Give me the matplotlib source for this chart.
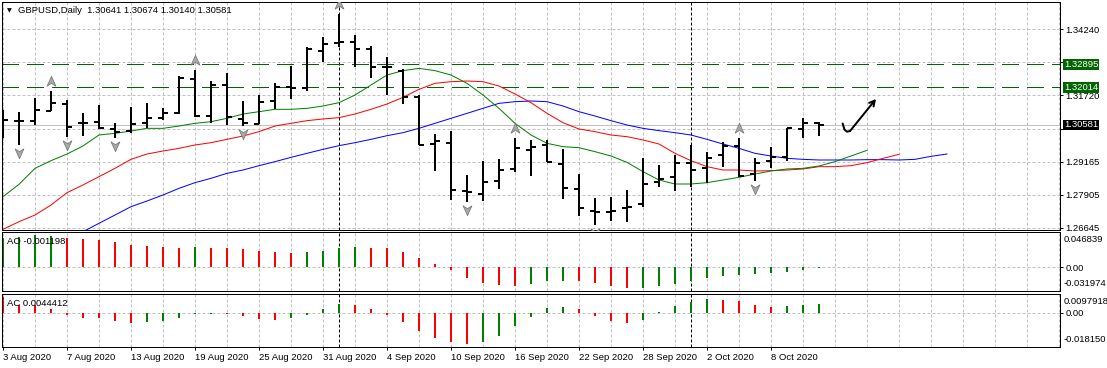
import matplotlib
matplotlib.use('Agg')
import numpy as np
import matplotlib.pyplot as plt
from matplotlib.path import Path
from matplotlib.transforms import offset_copy

# ---- data -----------------------------------------------------------------
symbol = 'GBPUSD'
timeframe = 'Daily'

date_ticks = [0, 4, 8, 12, 16, 20, 24, 28, 32, 36, 40, 44, 48]
date_labels = ['3 Aug 2020', '7 Aug 2020', '13 Aug 2020', '19 Aug 2020', '25 Aug 2020',
               '31 Aug 2020', '4 Sep 2020', '10 Sep 2020', '16 Sep 2020', '22 Sep 2020',
               '28 Sep 2020', '2 Oct 2020', '8 Oct 2020']
month_starts = [21, 43]   # 1 Sep, 1 Oct

bar_open = [1.3077, 1.3074, 1.3073, 1.3113, 1.3138, 1.3067, 1.3070, 1.3044, 1.3035, 1.3064,
            1.3086, 1.3102, 1.3234, 1.3093, 1.3211, 1.3079, 1.3062, 1.3151, 1.3204, 1.3198,
            1.3341, 1.3370, 1.3377, 1.3347, 1.3281, 1.3264, 1.3164, 1.2984, 1.2990, 1.2805,
            1.2792, 1.2845, 1.2889, 1.2962, 1.2981, 1.2908, 1.2813, 1.2730, 1.2726, 1.2739,
            1.2754, 1.2841, 1.2860, 1.2914, 1.2892, 1.2943, 1.2977, 1.2869, 1.2921, 1.2936,
            1.3041, 1.30641]
bar_high = [1.3115, 1.3109, 1.3160, 1.3189, 1.3153, 1.3105, 1.3134, 1.3067, 1.3125, 1.3141,
            1.3122, 1.3245, 1.3268, 1.3226, 1.3258, 1.3150, 1.3173, 1.3220, 1.3284, 1.3355,
            1.3393, 1.3483, 1.3402, 1.3360, 1.3317, 1.3271, 1.3171, 1.3022, 1.3035, 1.2866,
            1.2920, 1.2926, 1.3009, 1.3000, 1.3000, 1.2966, 1.2870, 1.2777, 1.2783, 1.2809,
            1.2930, 1.2905, 1.2943, 1.2981, 1.2953, 1.2994, 1.3009, 1.2930, 1.2975, 1.3048,
            1.3086, 1.30674]
bar_low = [1.3007, 1.2981, 1.3058, 1.3111, 1.3011, 1.3016, 1.3041, 1.3007, 1.3026, 1.3048,
           1.3077, 1.3100, 1.3090, 1.3064, 1.3058, 1.3054, 1.3060, 1.3118, 1.3157, 1.3189,
           1.3300, 1.3355, 1.3281, 1.3239, 1.3173, 1.3138, 1.2981, 1.2883, 1.2771, 1.2764,
           1.2767, 1.2813, 1.2877, 1.2862, 1.2915, 1.2774, 1.2711, 1.2675, 1.2691, 1.2688,
           1.2745, 1.2822, 1.2806, 1.2822, 1.2834, 1.2898, 1.2860, 1.2843, 1.2892, 1.2920,
           1.3007, 1.30140]
bar_close = [1.3077, 1.3074, 1.3115, 1.3141, 1.3051, 1.3067, 1.3048, 1.3030, 1.3062, 1.3086,
             1.3105, 1.3236, 1.3093, 1.3211, 1.3090, 1.3064, 1.3147, 1.3204, 1.3201, 1.3347,
             1.3367, 1.3377, 1.3347, 1.3281, 1.3281, 1.3166, 1.2981, 1.2998, 1.2809, 1.2800,
             1.2841, 1.2885, 1.2968, 1.2972, 1.2917, 1.2818, 1.2739, 1.2726, 1.2730, 1.2743,
             1.2831, 1.2851, 1.2914, 1.2885, 1.2930, 1.2979, 1.2864, 1.2914, 1.2936, 1.3045,
             1.3064, 1.30581]

# Alligator lines (lips / teeth / jaw are drawn shifted past the last bar)
lips = [1.27833, 1.28305, 1.28918, 1.29211, 1.29466, 1.29773, 1.30194, 1.30258, 1.30347, 1.30449,
        1.30449, 1.30538, 1.30641, 1.30704, 1.30832, 1.30998, 1.31087, 1.31177, 1.31177, 1.31215,
        1.31304, 1.31432, 1.31725, 1.32108, 1.32491, 1.32657, 1.32746, 1.32657, 1.32491, 1.32172,
        1.31725, 1.31215, 1.30641, 1.30194, 1.29875, 1.29747, 1.29709, 1.29556, 1.29390, 1.29147,
        1.28790, 1.28471, 1.28318, 1.28318, 1.28369, 1.28471, 1.28573, 1.28701, 1.28816, 1.28892,
        1.28918, 1.29007, 1.29173, 1.29390, 1.29607]
teeth = [1.26582, 1.26876, 1.27131, 1.27514, 1.27986, 1.28280, 1.28599, 1.28918, 1.29262, 1.29466,
         1.29581, 1.29683, 1.29811, 1.29900, 1.30028, 1.30156, 1.30322, 1.30538, 1.30641, 1.30743,
         1.30807, 1.30858, 1.30998, 1.31177, 1.31381, 1.31636, 1.31942, 1.32172, 1.32236, 1.32261,
         1.32236, 1.32070, 1.31764, 1.31432, 1.31023, 1.30666, 1.30424, 1.30322, 1.30194, 1.30130,
         1.30003, 1.29849, 1.29492, 1.29211, 1.28982, 1.28854, 1.28854, 1.28816, 1.28828, 1.28854,
         1.28892, 1.28982, 1.28982, 1.29020, 1.29135, 1.29301, 1.29454]
jaw_first = 5
jaw = [1.26493, 1.26812, 1.27131, 1.27450, 1.27667, 1.27897, 1.28152, 1.28369, 1.28535, 1.28726,
       1.28854, 1.29020, 1.29173, 1.29339, 1.29492, 1.29645, 1.29786, 1.29900, 1.30028, 1.30168,
       1.30283, 1.30449, 1.30641, 1.30832, 1.31023, 1.31215, 1.31406, 1.31470, 1.31496, 1.31470,
       1.31304, 1.31087, 1.30921, 1.30743, 1.30577, 1.30449, 1.30360, 1.30283, 1.30194, 1.30028,
       1.29849, 1.29683, 1.29492, 1.29390, 1.29301, 1.29262, 1.29237, 1.29237, 1.29237, 1.29250,
       1.29250, 1.29237, 1.29262, 1.29377, 1.29466]

fractal_up = [3, 12, 21, 32, 46]
fractal_down = [1, 4, 7, 15, 29, 37, 47]

levels = [1.32895, 1.32014]
bid = 1.30581
price_grid = [1.26645, 1.27905, 1.29165, 1.30425, 1.31720, 1.32980, 1.34240]
hidden_grid_labels = [1.30425, 1.32980]   # sit under the level / bid boxes

# hand drawn arrow (bar index, price)
sketch_x = [52.48, 52.59, 52.75, 52.94]
sketch_y = [1.30634, 1.30405, 1.30320, 1.30347]
sketch_tip = (54.56, 1.31572)

ao = [0.0390, 0.0399, 0.0425, 0.0412, 0.0390, 0.0376, 0.0363, 0.0337, 0.0301, 0.0283,
      0.0270, 0.0257, 0.0270, 0.0257, 0.0252, 0.0244, 0.0221, 0.0195, 0.0190, 0.0195,
      0.0221, 0.0257, 0.0270, 0.0257, 0.0248, 0.0204, 0.0124, 0.0044, -0.0044, -0.0142,
      -0.0208, -0.0244, -0.0248, -0.0230, -0.0186, -0.0182, -0.0190, -0.0213, -0.0257, -0.0283,
      -0.0279, -0.0257, -0.0230, -0.0186, -0.0151, -0.0120, -0.0111, -0.0097, -0.0084, -0.0066,
      -0.0040, -0.001198]
ao_up = 'ggggrrrrrrrrgrrrrrrggggrrrrrrrrrrgggrrrrggggggggggggg'
ac = [0.0082, 0.0040, 0.0038, 0.0021, -0.0014, -0.0030, -0.0031, -0.0045, -0.0056, -0.0051,
      -0.0045, -0.0030, -0.0010, -0.0009, -0.0010, -0.0019, -0.0035, -0.0040, -0.0028, -0.0014,
      0.0021, 0.0047, 0.0040, 0.0021, -0.0014, -0.0051, -0.0098, -0.0134, -0.0155, -0.0166,
      -0.0157, -0.0124, -0.0072, -0.0024, 0.0026, 0.0031, 0.0017, -0.0019, -0.0044, -0.0056,
      -0.0040, 0.0003, 0.0037, 0.0058, 0.0070, 0.0068, 0.0059, 0.0042, 0.0031, 0.0033,
      0.0038, 0.0044412]
ac_up = 'rrrrrrrrrgggggrrrrggggrrrrrrrrggggggrrrrgggggrrrrggg'
ao_range = (-0.031974, 0.046839)
ac_range = (-0.018150, 0.0097918)

# ---- figure -----------------------------------------------------------------
W, H, DPI = 1107, 368, 100
PX = 72.0 / DPI
FS = 6.8
GRID = '#c0c0c0'
GREEN = '#008000'
RED = '#ff0000'

plt.rcParams['font.family'] = ['Liberation Sans', 'DejaVu Sans']
plt.rcParams['font.size'] = FS

fig = plt.figure(figsize=(W / DPI, H / DPI), dpi=DPI)
fig.patch.set_facecolor('white')


def panel(x0, y0, x1, y1):
  return fig.add_axes([x0 / W, 1 - y1 / H, (x1 - x0) / W, (y1 - y0) / H])


ax = panel(2, 2, 1060, 229.5)
ao_ax = panel(2, 232, 1060, 291)
ac_ax = panel(2, 294, 1060, 347)

xmin, xmax = -1 / 16, (1060 - 3) / 16
idx = np.arange(len(bar_open))

for a in (ax, ao_ax, ac_ax):
  a.set_xlim(xmin, xmax)
  for sp in a.spines.values():
    sp.set_linewidth(PX)
    sp.set_color('black')
  for k in range(0, 67, 2):
    a.axvline(k, color=GRID, lw=PX, ls=(0, (3, 2)), zorder=0)
  for k in month_starts:
    a.axvline(k, color='black', lw=PX, ls=(0, (3, 2)), zorder=1)
  a.tick_params(axis='x', which='both', bottom=False, labelbottom=False)

# ---- main price panel ---------------------------------------------------------
ax.set_ylim(1.26576, 1.35286)
for p in price_grid:
  ax.axhline(p, color=GRID, lw=PX, ls=(0, (3, 2)), zorder=0)
ax.axhline(bid, color=GRID, lw=PX, zorder=0.5)
for lv in levels:
  ax.axhline(lv, color='#006400', lw=1.2 * PX, ls=(0, (14, 7)), antialiased=False, zorder=1)

ax.plot(np.arange(jaw_first, jaw_first + len(jaw)), jaw, color='#0000ff', lw=PX, zorder=2)
ax.plot(np.arange(len(teeth)), teeth, color=RED, lw=PX, zorder=2)
ax.plot(np.arange(len(lips)), lips, color=GREEN, lw=PX, zorder=2)

tick = 0.3
ax.vlines(idx, bar_low, bar_high, color='black', lw=2 * PX, capstyle='butt', zorder=3)
ax.hlines(bar_open, idx - tick, idx, color='black', lw=2 * PX, zorder=3)
ax.hlines(bar_close, idx, idx + tick, color='black', lw=2 * PX, zorder=3)

up_marker = Path([(0, 1), (0.85, -0.9), (0, -0.35), (-0.85, -0.9), (0, 1)],
                 [Path.MOVETO, Path.LINETO, Path.LINETO, Path.LINETO, Path.CLOSEPOLY])
down_marker = Path([(0, -1), (0.85, 0.9), (0, 0.35), (-0.85, 0.9), (0, -1)],
                   [Path.MOVETO, Path.LINETO, Path.LINETO, Path.LINETO, Path.CLOSEPOLY])
up_tr = offset_copy(ax.transData, fig=fig, x=0, y=10, units='dots')
dn_tr = offset_copy(ax.transData, fig=fig, x=0, y=-8, units='dots')
ax.plot(fractal_up, [bar_high[k] for k in fractal_up], ls='none', marker=up_marker, ms=7.5,
        mfc='#a8a8a8', mec='#6e6e6e', mew=0.5, transform=up_tr, zorder=4)
ax.plot(fractal_down, [bar_low[k] for k in fractal_down], ls='none', marker=down_marker, ms=7.5,
        mfc='#a8a8a8', mec='#6e6e6e', mew=0.5, transform=dn_tr, zorder=4)

ax.plot(sketch_x, sketch_y, color='black', lw=2 * PX, solid_capstyle='round', zorder=4)
ax.annotate('', xy=sketch_tip, xytext=(sketch_x[-1], sketch_y[-1]),
            arrowprops=dict(arrowstyle='->,head_length=0.55,head_width=0.3', color='black',
                            lw=2 * PX, shrinkA=0, shrinkB=0), zorder=4)

ax.yaxis.tick_right()
ax.set_yticks(price_grid)
ax.set_yticklabels(['' if p in hidden_grid_labels else '%.5f' % p for p in price_grid])
ax.tick_params(axis='y', which='major', direction='out', length=3 * PX, width=PX,
               pad=2, labelsize=FS, colors='black')


def right_label(a, value, text, face):
  a.annotate(text, xy=(1, value), xycoords=('axes fraction', 'data'), xytext=(4, 0),
             textcoords='offset pixels', va='center', ha='left', color='white', fontsize=FS,
             annotation_clip=False, zorder=6,
             bbox=dict(boxstyle='square,pad=0.06', fc=face, ec=face, lw=0))


for lv in levels:
  right_label(ax, lv, '%.5f' % lv, '#006400')
right_label(ax, bid, '%.5f' % bid, 'black')

header = '%s,%s  %.5f %.5f %.5f %.5f' % (symbol, timeframe, bar_open[-1], bar_high[-1],
                                         bar_low[-1], bar_close[-1])
fig.text(7 / W, 1 - 10.5 / H, '\u25bc', fontsize=4.5, va='center', ha='left',
         family=['DejaVu Sans'])
fig.text(18 / W, 1 - 10.5 / H, header, fontsize=FS, va='center', ha='left')

# ---- AO / AC panels -----------------------------------------------------------
col = {'g': GREEN, 'r': RED}
for a, vals, ups, rng, name in ((ao_ax, ao, ao_up, ao_range, 'AO'),
                                (ac_ax, ac, ac_up, ac_range, 'AC')):
  a.set_ylim(*rng)
  a.axhline(0, color=GRID, lw=PX, ls=(0, (3, 2)), zorder=0)
  a.vlines(idx, 0, vals, colors=[col[c] for c in ups[:len(vals)]], lw=2 * PX,
           capstyle='butt', zorder=2)
  a.set_yticks([0])
  a.set_yticklabels(['0.00'])
  a.yaxis.tick_right()
  a.tick_params(axis='y', direction='out', length=3 * PX, width=PX, pad=2, labelsize=FS)
  top_txt = ('%.6f' % rng[1]) if name == 'AO' else ('%.7f' % rng[1])
  bot_txt = '%.6f' % rng[0]
  a.text(1, 1, top_txt, transform=offset_copy(a.transAxes, fig=fig, x=4, y=-7, units='dots'),
         va='center', ha='left', fontsize=FS)
  a.text(1, 0, bot_txt, transform=offset_copy(a.transAxes, fig=fig, x=4, y=7, units='dots'),
         va='center', ha='left', fontsize=FS)
  last = vals[-1]
  lbl = '%s %s' % (name, ('%.6f' % last) if name == 'AO' else ('%.7f' % last))
  a.text(0, 1, lbl, transform=offset_copy(a.transAxes, fig=fig, x=5, y=-9, units='dots'),
         va='center', ha='left', fontsize=FS, zorder=5)

ac_ax.set_xticks(date_ticks)
ac_ax.set_xticklabels(date_labels)
ac_ax.tick_params(axis='x', which='major', bottom=True, labelbottom=True, direction='out',
                  length=3 * PX, width=PX, pad=2.5, labelsize=FS)
for lbl in ac_ax.get_xticklabels():
  lbl.set_horizontalalignment('left')

fig.savefig('out.png', dpi=DPI, facecolor='white')
